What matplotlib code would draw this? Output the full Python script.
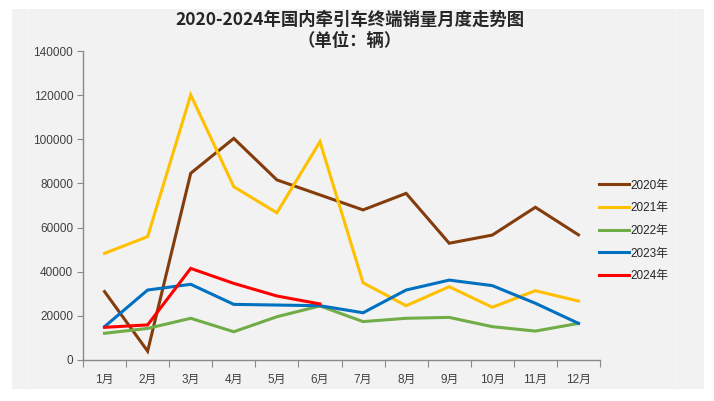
import matplotlib
matplotlib.use("Agg")
import matplotlib.pyplot as plt
from matplotlib.patches import Rectangle
from matplotlib.lines import Line2D

plt.rcParams['font.family'] = ['Liberation Sans', 'Noto Sans CJK SC', 'DejaVu Sans']

months = ["1月", "2月", "3月", "4月", "5月", "6月", "7月", "8月", "9月", "10月", "11月", "12月"]
s2020 = [31000, 4000, 84600, 100400, 81600, 74800, 68000, 75500, 52900, 56600, 69200, 56700]
s2021 = [48300, 55900, 120100, 78500, 66700, 98900, 35000, 24600, 33200, 23900, 31400, 26700]
s2022 = [12100, 14300, 18900, 12800, 19600, 24500, 17400, 18900, 19300, 15100, 13100, 16600]
s2023 = [15100, 31700, 34300, 25200, 24900, 24600, 21400, 31700, 36200, 33700, 25700, 16600]
s2024 = [14800, 15900, 41500, 34700, 29000, 25400]
series_names = ["2020年", "2021年", "2022年", "2023年", "2024年"]
colors = ["#843C0C", "#FFC000", "#70AD47", "#0070C0", "#FF0000"]
yticks = [0, 20000, 40000, 60000, 80000, 100000, 120000, 140000]

W, H = 714, 401
fig = plt.figure(figsize=(W / 100, H / 100), dpi=100, facecolor="white")

# background panel
fig.patches.append(Rectangle((12 / W, 1 - 389 / H), (704 - 12) / W, (389 - 9) / H,
                             transform=fig.transFigure, facecolor="#f2f2f2",
                             edgecolor="none", zorder=-2))
for xp in (27, 676):
    fig.lines.append(Line2D([xp / W, xp / W], [1 - 389 / H, 1 - 9 / H],
                            transform=fig.transFigure, color="#f7f7f7", lw=1, zorder=-1))

ax_l, ax_r, ax_t, ax_b = 83, 600, 51, 360
ax = fig.add_axes([ax_l / W, 1 - ax_b / H, (ax_r - ax_l) / W, (ax_b - ax_t) / H])
ax.set_facecolor("none")
ax.set_zorder(2)

x = list(range(len(months)))
all_series = [s2020, s2021, s2022, s2023, s2024]
for name, vals, c in zip(series_names, all_series, colors):
    ax.plot(x[:len(vals)], vals, color=c, lw=2.2, label=name, solid_joinstyle="miter")

ax.set_xlim(-0.5, 11.5)
ax.set_ylim(0, 140000)
ax.set_yticks(yticks)
ax.set_yticklabels([str(v) for v in yticks])
ax.set_xticks([i + 0.5 for i in range(-1, 12)], minor=False)
ax.set_xticklabels([])
ax.set_xticks(x, minor=True)
ax.set_xticklabels(months, minor=True)
ax.tick_params(axis="x", which="major", length=5, direction="out", color="#898989")
ax.tick_params(axis="x", which="minor", length=0, labelsize=8.5, pad=10, labelcolor="#404040")
ax.tick_params(axis="y", length=4, direction="out", color="#898989", labelsize=8.5,
               labelcolor="#404040", pad=3)
for sp in ("top", "right"):
    ax.spines[sp].set_visible(False)
for sp in ("left", "bottom"):
    ax.spines[sp].set_color("#898989")
    ax.spines[sp].set_linewidth(1)

leg = ax.legend(loc="upper left", bbox_to_anchor=(588 / W, 1 - 169 / H),
                bbox_transform=fig.transFigure, frameon=False, fontsize=8.5,
                handlelength=2.6, handletextpad=0.1, labelspacing=0.9)
for t in leg.get_texts():
    t.set_color("#262626")

fig.text(350 / W, 1 - 20 / H, "2020-2024年国内牵引车终端销量月度走势图", ha="center",
         va="center", fontsize=12.5, fontweight="bold", color="#262626",
         family=['Noto Sans CJK SC', 'DejaVu Sans'])
fig.text(350 / W, 1 - 41 / H, "（单位：辆）", ha="center", va="center",
         fontsize=12.5, fontweight="bold", color="#262626",
         family=['Noto Sans CJK SC', 'DejaVu Sans'])

fig.savefig("out.png", dpi=100, facecolor=fig.get_facecolor())
